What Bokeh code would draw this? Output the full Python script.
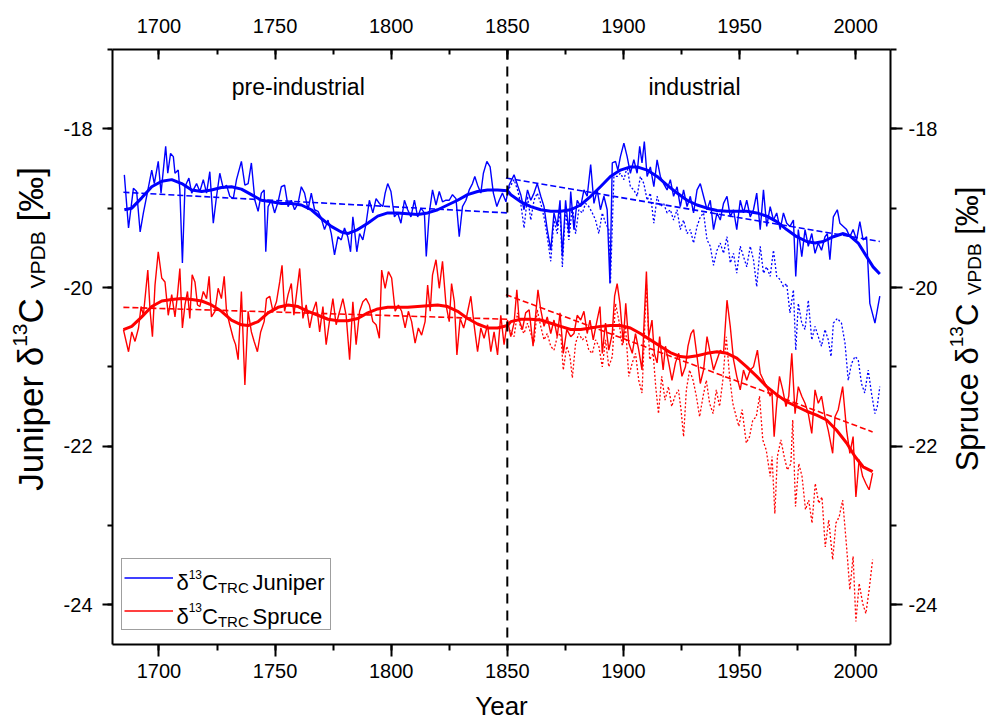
from bokeh.plotting import figure
from bokeh.layouts import row
from bokeh.models import (Range1d, LinearAxis, SingleIntervalTicker, Label, Span,
                          Legend, LegendItem, CustomJSTickFormatter)
from bokeh.embed import file_html
from bokeh.resources import INLINE

FONT = "Liberation Sans"
BLUE = "#0000ff"
RED = "#ff0000"

# ---------------- data (year, delta13C) ----------------
juniper_trc = [
    (1685.1,-18.58),(1686.9,-19.25),(1689.0,-18.75),(1690.4,-18.79),(1691.9,-19.30),(1693.3,-19.06),
    (1694.7,-18.85),(1696.9,-18.52),(1698.0,-18.69),(1699.7,-18.41),(1700.9,-18.81),(1702.9,-18.22),
    (1703.8,-18.56),(1705.0,-18.31),(1706.2,-18.35),(1706.9,-18.56),(1708.3,-18.52),(1709.0,-18.77),
    (1710.1,-19.69),(1711.2,-18.73),(1712.9,-18.62),(1714.1,-18.81),(1716.2,-18.69),(1717.6,-18.79),
    (1719.1,-18.64),(1720.5,-18.81),(1721.9,-18.54),(1723.4,-19.19),(1724.8,-18.85),(1726.2,-18.56),
    (1727.7,-18.75),(1729.1,-18.71),(1730.5,-18.85),(1732.0,-18.88),(1733.4,-18.64),(1735.5,-18.41),
    (1737.0,-18.71),(1738.4,-18.69),(1739.8,-18.43),(1741.3,-18.90),(1742.7,-19.04),(1744.1,-18.81),
    (1745.3,-18.77),(1746.0,-19.55),(1747.0,-18.98),(1748.4,-18.90),(1749.8,-19.06),(1751.3,-18.92),
    (1752.7,-18.73),(1754.1,-18.71),(1755.6,-18.98),(1757.0,-18.90),(1758.4,-19.02),(1759.9,-18.94),
    (1761.3,-18.73),(1762.7,-18.81),(1764.2,-19.02),(1765.6,-18.81),(1767.0,-19.02),(1768.5,-19.04),
    (1769.9,-19.13),(1771.3,-19.27),(1772.8,-19.15),(1774.2,-19.32),(1775.6,-19.59),(1777.1,-19.36),
    (1778.5,-19.40),(1779.9,-19.25),(1781.3,-19.36),(1782.5,-19.55),(1783.5,-19.11),(1784.2,-19.27),
    (1785.2,-19.55),(1786.4,-19.32),(1787.8,-19.40),(1789.2,-19.19),(1790.6,-18.90),(1792.1,-19.06),
    (1793.5,-18.88),(1794.9,-18.94),(1796.4,-18.98),(1797.4,-18.81),(1798.5,-18.69),(1799.9,-18.79),
    (1801.4,-19.11),(1802.8,-19.06),(1804.2,-19.19),(1805.7,-18.90),(1807.1,-19.02),(1808.5,-19.11),
    (1810.0,-18.90),(1811.4,-19.11),(1812.8,-19.00),(1814.3,-19.06),(1815.1,-19.61),(1816.4,-19.06),
    (1817.8,-18.77),(1819.3,-18.96),(1820.7,-18.79),(1822.1,-18.92),(1823.6,-18.90),(1825.0,-18.90),
    (1826.4,-18.83),(1827.9,-18.88),(1829.3,-19.36),(1830.7,-18.98),(1832.2,-18.90),(1833.6,-18.77),
    (1835.0,-18.69),(1836.0,-18.60),(1837.2,-18.71),(1838.6,-18.81),(1839.7,-18.56),(1841.2,-18.41),
    (1842.6,-18.48),(1844.0,-18.81),(1845.5,-18.98),(1846.5,-18.90),(1847.9,-18.81),
    (1849.4,-18.92),(1850.8,-18.71),(1852.9,-18.58),(1854.4,-18.71),(1855.8,-18.83),(1857.2,-19.02),
    (1858.7,-18.77),(1860.1,-18.90),(1861.5,-18.81),(1862.9,-18.69),(1864.4,-18.85),(1865.8,-18.98),
    (1867.2,-19.27),(1868.7,-19.53),(1870.1,-19.06),(1871.5,-19.23),(1872.7,-18.90),(1873.7,-19.61),
    (1875.1,-18.90),(1876.5,-19.32),(1877.3,-18.79),(1878.7,-19.27),(1880.1,-18.90),(1881.6,-18.98),
    (1883.0,-18.77),(1884.4,-18.85),(1885.9,-18.45),(1887.3,-18.94),(1888.7,-18.77),(1890.1,-19.02),
    (1891.6,-18.85),(1893.0,-19.02),(1894.2,-19.95),(1895.2,-18.43),(1896.6,-18.41),(1897.6,-18.52),
    (1898.7,-18.35),(1900.2,-18.18),(1901.6,-18.35),(1903.0,-18.56),(1904.5,-18.39),(1905.9,-18.56),
    (1907.0,-18.22),(1908.0,-18.43),(1909.0,-18.16),(1910.2,-18.60),(1911.6,-18.48),(1913.1,-18.73),
    (1914.5,-18.39),(1915.9,-18.60),(1917.3,-18.69),(1918.8,-18.77),(1920.2,-18.64),(1921.6,-18.85),
    (1923.1,-18.73),(1924.5,-18.98),(1925.9,-18.77),(1927.4,-18.98),(1928.8,-18.85),(1930.2,-19.06),
    (1931.7,-18.77),(1933.1,-18.69),(1934.5,-18.85),(1936.0,-19.02),(1937.4,-18.90),(1938.8,-19.27),
    (1940.3,-19.06),(1941.7,-19.15),(1943.1,-18.94),(1944.6,-18.85),(1946.0,-19.11),(1947.4,-19.02),
    (1948.8,-19.27),(1950.3,-18.90),(1951.7,-19.06),(1953.1,-18.90),(1954.6,-19.11),(1956.0,-19.02),
    (1957.4,-18.81),(1958.9,-19.27),(1960.3,-18.77),(1961.7,-19.23),(1963.2,-18.98),(1964.6,-19.15),
    (1966.0,-19.06),(1967.5,-19.27),(1968.9,-19.06),(1970.3,-19.19),(1971.7,-19.23),(1973.2,-19.15),
    (1974.2,-19.86),(1975.3,-19.27),(1976.8,-19.61),(1978.2,-19.27),(1979.6,-19.48),(1981.1,-19.32),
    (1982.5,-19.57),(1983.9,-19.44),(1985.3,-19.53),(1986.8,-19.36),(1987.8,-19.32),(1988.9,-19.65),
    (1990.4,-19.11),(1992.1,-19.02),(1993.2,-19.19),(1994.7,-19.23),(1996.1,-19.27),(1997.5,-19.36),
    (1998.9,-19.27),(2000.4,-19.40),(2001.8,-19.17),(2003.2,-19.40),(2004.7,-19.36),(2006.1,-20.20),
    (2008.3,-20.45),(2010.4,-20.11),
]

juniper_raw = [
    (1850.8,-18.75),(1852.9,-18.64),(1854.4,-18.77),(1855.8,-18.94),(1857.2,-19.25),(1858.7,-18.85),
    (1860.1,-19.15),(1861.5,-18.90),(1862.9,-18.81),(1864.4,-18.94),(1865.8,-19.11),(1867.2,-19.36),
    (1868.7,-19.67),(1870.1,-19.15),(1871.5,-19.32),(1872.7,-19.02),(1873.7,-19.74),(1875.1,-19.02),
    (1876.5,-19.40),(1878.0,-18.98),(1879.4,-19.32),(1880.8,-19.02),(1882.3,-19.06),(1883.7,-18.94),
    (1885.1,-18.98),(1886.6,-19.06),(1888.0,-19.15),(1889.4,-19.32),(1890.9,-19.06),(1892.3,-19.19),
    (1893.7,-19.27),(1894.4,-19.95),(1895.9,-18.60),(1897.3,-18.60),(1898.7,-18.56),(1900.2,-18.64),
    (1901.6,-18.48),(1903.0,-18.73),(1904.5,-18.77),(1905.9,-18.85),(1907.3,-18.60),(1908.8,-18.69),
    (1910.2,-18.90),(1911.6,-18.81),(1913.1,-19.19),(1914.5,-18.85),(1915.9,-18.98),(1917.3,-18.94),
    (1918.8,-19.06),(1920.2,-19.02),(1921.6,-19.15),(1923.1,-19.02),(1924.5,-19.27),(1925.9,-19.15),
    (1927.4,-19.32),(1928.8,-19.27),(1930.2,-19.44),(1931.7,-19.23),(1933.1,-19.11),(1934.5,-19.06),
    (1936.0,-19.40),(1937.4,-19.48),(1938.8,-19.72),(1940.3,-19.53),(1941.7,-19.44),(1943.1,-19.57),
    (1944.6,-19.36),(1946.0,-19.69),(1947.4,-19.57),(1948.8,-19.82),(1950.3,-19.48),(1951.7,-19.61),
    (1953.1,-19.74),(1954.6,-19.48),(1956.0,-19.65),(1957.4,-19.99),(1958.9,-19.48),(1960.3,-19.82),
    (1961.7,-19.74),(1963.2,-19.86),(1964.6,-19.53),(1966.0,-19.86),(1967.5,-19.90),(1968.9,-19.99),
    (1970.3,-19.95),(1971.7,-20.32),(1973.2,-20.03),(1974.2,-20.79),(1975.3,-20.20),(1976.8,-20.45),
    (1978.2,-20.53),(1979.6,-20.16),(1981.1,-20.66),(1982.5,-20.49),(1983.9,-20.62),(1985.3,-20.74),
    (1986.8,-20.53),(1988.2,-20.66),(1989.4,-20.87),(1990.4,-20.45),(1992.1,-20.39),(1993.9,-20.45),
    (1995.4,-20.70),(1996.8,-21.17),(1998.2,-20.96),(1999.7,-20.87),(2001.1,-20.91),(2002.5,-21.21),
    (2003.9,-21.33),(2005.4,-21.04),(2006.8,-21.33),(2008.3,-21.59),(2009.3,-21.50),(2010.4,-21.25),
]

juniper_smooth = [
    (1685.1,-19.02),(1688.3,-19.00),(1692.6,-18.87),(1696.9,-18.73),(1701.2,-18.66),(1705.5,-18.64),
    (1709.8,-18.69),(1714.1,-18.77),(1718.4,-18.79),(1722.6,-18.77),(1726.9,-18.74),(1731.2,-18.73),
    (1735.5,-18.76),(1739.8,-18.83),(1744.1,-18.90),(1748.4,-18.92),(1752.7,-18.94),(1757.0,-18.94),
    (1761.3,-18.96),(1765.6,-19.02),(1769.9,-19.13),(1774.2,-19.23),(1778.5,-19.30),(1781.3,-19.32),
    (1785.6,-19.27),(1789.9,-19.19),(1794.2,-19.10),(1798.5,-19.06),(1802.8,-19.06),(1807.1,-19.07),
    (1811.4,-19.08),(1815.7,-19.06),(1820.0,-19.02),(1824.3,-18.96),(1828.6,-18.90),(1832.9,-18.83),
    (1837.2,-18.79),(1841.5,-18.77),(1845.8,-18.77),(1850.1,-18.78),(1851.5,-18.83),(1855.8,-18.92),
    (1860.1,-18.98),(1864.4,-19.02),(1868.7,-19.04),(1873.0,-19.04),(1877.3,-19.02),(1881.6,-18.96),
    (1885.9,-18.85),(1890.1,-18.73),(1894.4,-18.60),(1898.7,-18.52),(1903.0,-18.48),(1905.9,-18.48),
    (1910.2,-18.52),(1914.5,-18.60),(1918.8,-18.71),(1923.1,-18.81),(1927.4,-18.90),(1931.7,-18.96),
    (1936.0,-19.00),(1940.3,-19.03),(1944.6,-19.04),(1948.8,-19.04),(1953.1,-19.04),(1957.4,-19.06),
    (1961.7,-19.10),(1966.0,-19.17),(1970.3,-19.27),(1974.6,-19.36),(1978.9,-19.42),(1982.5,-19.44),
    (1986.1,-19.42),(1990.4,-19.36),(1994.7,-19.32),(1997.5,-19.35),(2001.1,-19.44),(2004.7,-19.61),
    (2007.5,-19.74),(2010.4,-19.83),
]

juniper_trend_pre = [(1684.7, -18.80), (1850.1, -19.06)]
juniper_trend_ind = [(1849.4, -18.62), (2010.4, -19.42)]

spruce_trc = [
    (1684.7,-20.53),(1686.9,-20.81),(1688.3,-20.56),(1689.7,-20.68),(1691.2,-20.51),(1692.3,-20.24),
    (1693.3,-20.35),(1695.2,-19.78),(1696.2,-20.30),(1697.2,-20.62),(1698.3,-19.97),(1699.7,-19.55),
    (1701.2,-19.88),(1702.6,-19.93),(1704.0,-20.35),(1705.5,-20.09),(1706.9,-20.37),(1708.0,-20.09),
    (1709.0,-19.76),(1710.1,-20.51),(1711.2,-20.22),(1712.3,-20.05),(1713.3,-20.39),(1714.3,-19.84),
    (1715.5,-19.93),(1716.6,-20.22),(1717.6,-20.24),(1719.1,-20.05),(1720.5,-20.14),(1721.6,-19.86),
    (1722.6,-20.37),(1724.1,-20.30),(1725.5,-20.01),(1726.9,-20.14),(1728.1,-19.86),(1729.1,-20.30),
    (1730.5,-20.47),(1732.0,-20.64),(1733.0,-20.72),(1734.1,-20.91),(1735.5,-20.05),(1737.0,-21.23),
    (1738.4,-20.30),(1739.8,-20.56),(1741.0,-20.68),(1742.4,-20.81),(1743.8,-20.56),(1745.3,-20.43),
    (1746.3,-20.14),(1747.7,-20.11),(1749.1,-20.30),(1750.6,-20.18),(1752.0,-19.93),(1753.0,-19.72),
    (1754.1,-20.30),(1755.6,-20.09),(1757.0,-19.95),(1758.1,-20.35),(1759.2,-20.09),(1760.6,-19.76),
    (1762.0,-20.39),(1763.4,-20.22),(1764.9,-20.51),(1766.3,-20.30),(1767.7,-20.18),(1769.2,-20.56),
    (1770.6,-20.24),(1772.0,-20.72),(1773.5,-20.41),(1774.9,-20.14),(1776.3,-20.47),(1777.8,-20.30),
    (1779.2,-20.14),(1780.6,-20.35),(1782.1,-20.91),(1783.5,-20.18),(1784.9,-20.72),(1786.4,-20.30),
    (1787.8,-20.18),(1789.2,-20.14),(1790.6,-20.22),(1792.1,-20.43),(1793.5,-20.47),(1794.9,-20.64),
    (1795.9,-19.78),(1797.4,-20.01),(1798.8,-19.80),(1800.2,-19.88),(1801.7,-20.30),(1803.1,-20.22),
    (1804.5,-20.30),(1806.0,-20.51),(1807.4,-20.30),(1808.8,-20.43),(1810.3,-20.70),(1811.7,-20.51),
    (1813.1,-20.60),(1814.6,-20.43),(1815.7,-19.97),(1816.8,-20.30),(1817.8,-19.84),(1819.3,-19.65),
    (1820.7,-20.01),(1822.1,-19.67),(1823.6,-20.22),(1825.0,-20.43),(1826.0,-19.95),(1827.2,-20.18),
    (1828.3,-20.85),(1829.7,-20.39),(1831.2,-20.51),(1832.6,-20.35),(1834.3,-20.11),(1835.7,-20.47),
    (1837.2,-20.81),(1838.6,-20.51),(1840.0,-20.64),(1841.5,-20.47),(1842.9,-20.81),(1844.3,-20.56),
    (1845.8,-20.85),(1847.2,-20.35),(1848.6,-20.72),
    (1850.1,-20.41),(1851.5,-20.62),(1852.9,-20.45),(1854.1,-20.03),(1855.1,-20.41),(1856.5,-20.53),
    (1857.9,-20.32),(1859.4,-20.28),(1861.1,-20.74),(1862.0,-20.41),(1863.2,-20.03),(1864.4,-20.28),
    (1865.8,-20.49),(1867.2,-20.37),(1868.7,-20.58),(1870.1,-20.41),(1871.5,-20.62),(1872.7,-20.32),
    (1874.1,-20.83),(1875.6,-20.53),(1877.3,-20.62),(1878.7,-20.58),(1880.1,-20.35),(1881.6,-20.41),
    (1883.0,-20.30),(1884.4,-20.58),(1885.6,-20.41),(1887.0,-20.66),(1888.4,-20.45),(1889.9,-20.24),
    (1890.9,-20.83),(1892.3,-20.45),(1893.7,-20.79),(1895.2,-20.58),(1896.2,-20.11),(1897.3,-19.95),
    (1898.5,-20.20),(1899.9,-20.70),(1901.0,-20.20),(1902.3,-20.70),(1903.8,-20.83),(1905.2,-20.58),
    (1906.6,-20.79),(1908.0,-21.04),(1909.0,-20.37),(1909.9,-19.80),(1910.9,-20.62),(1912.3,-20.41),
    (1913.3,-20.83),(1914.5,-20.95),(1915.6,-20.62),(1917.1,-21.04),(1918.1,-20.74),(1919.5,-20.95),
    (1920.9,-21.17),(1922.4,-20.95),(1923.8,-20.83),(1925.2,-21.12),(1926.7,-21.00),(1927.8,-20.74),
    (1929.1,-20.58),(1930.2,-20.53),(1931.7,-20.87),(1933.1,-21.21),(1934.5,-21.04),(1936.0,-20.62),
    (1937.4,-20.83),(1938.8,-21.04),(1940.3,-20.91),(1941.7,-20.79),(1943.1,-20.83),(1944.6,-20.16),
    (1946.0,-20.49),(1947.4,-20.91),(1948.8,-21.12),(1950.3,-21.29),(1951.7,-21.04),(1953.1,-21.17),
    (1954.6,-21.04),(1956.0,-21.00),(1957.7,-20.79),(1958.9,-21.08),(1960.3,-21.17),(1961.7,-21.25),
    (1963.2,-21.37),(1963.9,-21.29),(1964.9,-21.88),(1966.0,-21.46),(1967.2,-21.12),(1968.6,-21.29),
    (1970.0,-21.50),(1971.2,-21.37),(1972.5,-20.83),(1973.9,-21.59),(1975.3,-21.25),(1976.8,-21.37),
    (1978.2,-21.46),(1979.6,-21.59),(1981.1,-21.84),(1982.5,-21.29),(1983.9,-21.46),(1985.3,-21.37),
    (1986.8,-21.63),(1988.2,-21.80),(1990.1,-22.09),(1991.1,-21.63),(1992.5,-21.54),(1994.4,-21.25),
    (1996.1,-21.80),(1997.5,-22.09),(1998.9,-21.88),(2000.1,-22.64),(2001.5,-22.17),(2003.0,-22.38),
    (2004.4,-22.47),(2005.8,-22.55),(2007.3,-22.34),
]

spruce_raw = [
    (1850.8,-20.53),(1852.9,-20.62),(1854.4,-20.32),(1855.8,-20.51),(1857.2,-20.58),(1858.7,-20.45),
    (1860.1,-20.58),(1861.5,-20.70),(1862.9,-20.28),(1864.4,-20.49),(1865.8,-20.66),(1867.2,-20.58),
    (1868.7,-20.74),(1870.1,-20.79),(1871.5,-20.62),(1873.0,-20.58),(1874.1,-21.04),(1875.6,-20.74),
    (1877.0,-20.87),(1878.0,-21.14),(1879.4,-20.70),(1880.8,-20.58),(1882.3,-20.66),(1883.7,-20.62),
    (1885.1,-20.79),(1886.6,-20.83),(1888.0,-20.66),(1889.4,-20.74),(1890.9,-21.00),(1892.3,-20.66),
    (1893.7,-21.00),(1895.2,-20.87),(1896.6,-20.20),(1898.0,-20.41),(1899.5,-20.74),(1900.9,-20.49),
    (1902.3,-21.12),(1903.8,-20.95),(1905.2,-20.83),(1906.6,-21.17),(1908.0,-21.33),(1909.0,-20.62),
    (1909.9,-19.95),(1911.3,-20.91),(1912.8,-20.83),(1913.9,-21.25),(1915.1,-21.59),(1916.5,-21.12),
    (1917.9,-21.42),(1919.4,-21.25),(1920.8,-21.50),(1922.2,-21.37),(1923.7,-21.29),(1924.8,-21.54),
    (1925.9,-21.88),(1927.1,-21.29),(1928.5,-21.04),(1930.0,-21.17),(1931.4,-21.37),(1932.8,-21.63),
    (1934.3,-21.37),(1935.7,-21.17),(1937.1,-21.46),(1938.6,-21.59),(1940.0,-21.29),(1941.4,-21.50),
    (1942.8,-21.17),(1944.3,-20.62),(1945.7,-21.12),(1947.1,-21.46),(1948.6,-21.63),(1949.7,-21.75),
    (1951.1,-21.54),(1952.9,-21.96),(1954.3,-21.88),(1955.7,-21.67),(1957.2,-21.63),(1958.6,-21.37),
    (1960.0,-21.92),(1961.5,-22.05),(1963.2,-22.38),(1964.0,-22.13),(1965.2,-22.85),(1966.3,-22.13),
    (1967.8,-21.92),(1969.2,-22.13),(1970.6,-22.30),(1972.1,-22.22),(1972.9,-21.67),(1974.1,-22.76),
    (1975.5,-22.22),(1976.9,-22.38),(1978.4,-22.80),(1979.8,-22.68),(1981.2,-22.97),(1982.6,-22.47),
    (1984.1,-22.72),(1985.5,-22.64),(1986.9,-23.27),(1988.4,-22.93),(1990.1,-23.43),(1991.5,-22.97),
    (1992.9,-22.89),(1994.4,-22.68),(1996.1,-23.27),(1997.5,-23.81),(1998.9,-23.39),(2000.1,-24.21),
    (2001.5,-23.73),(2003.0,-23.98),(2004.4,-24.11),(2005.8,-23.81),(2007.3,-23.43),
]

spruce_smooth = [
    (1684.7,-20.53),(1688.3,-20.49),(1692.6,-20.37),(1696.9,-20.24),(1701.2,-20.17),(1705.5,-20.15),
    (1709.8,-20.14),(1714.1,-20.15),(1718.4,-20.17),(1722.6,-20.22),(1726.9,-20.30),(1731.2,-20.41),
    (1735.5,-20.47),(1738.4,-20.48),(1742.7,-20.43),(1747.0,-20.32),(1751.3,-20.25),(1755.6,-20.22),
    (1759.9,-20.24),(1764.2,-20.30),(1768.5,-20.35),(1772.8,-20.40),(1777.1,-20.42),(1781.3,-20.42),
    (1785.6,-20.39),(1789.9,-20.32),(1794.2,-20.27),(1798.5,-20.25),(1802.8,-20.25),(1807.1,-20.25),
    (1811.4,-20.24),(1815.7,-20.23),(1820.0,-20.22),(1824.3,-20.24),(1828.6,-20.30),(1832.9,-20.39),
    (1837.2,-20.46),(1841.5,-20.51),(1845.8,-20.51),(1850.1,-20.48),(1851.5,-20.43),(1855.8,-20.40),
    (1860.1,-20.40),(1864.4,-20.41),(1868.7,-20.45),(1873.0,-20.49),(1877.3,-20.53),(1881.6,-20.53),
    (1885.9,-20.51),(1890.1,-20.49),(1894.4,-20.48),(1898.7,-20.48),(1903.0,-20.51),(1907.3,-20.58),
    (1911.6,-20.66),(1915.9,-20.74),(1920.2,-20.82),(1924.5,-20.87),(1927.4,-20.88),(1931.7,-20.86),
    (1936.0,-20.83),(1940.3,-20.81),(1944.6,-20.83),(1948.8,-20.89),(1953.1,-21.00),(1957.4,-21.12),
    (1961.7,-21.25),(1966.0,-21.35),(1970.3,-21.44),(1974.6,-21.50),(1978.9,-21.56),(1983.2,-21.61),
    (1987.5,-21.67),(1991.8,-21.80),(1996.1,-21.96),(1999.7,-22.13),(2003.2,-22.26),(2007.3,-22.32),
]

spruce_trend_pre = [(1684.7, -20.25), (1850.1, -20.40)]
spruce_trend_ind = [(1849.4, -20.09), (2007.3, -21.82)]

period_labels = ["pre-industrial", "industrial"]
period_label_x = [1760.0, 1930.6]
period_label_y = -17.47
boundary_year = 1850

x_ticks_interval = 50
y_ticks_interval = 2


def xs(pairs):
    return [a for a, _ in pairs]


def ys(pairs):
    return [b for _, b in pairs]


H = 724
LW, RW = 60, 48          # widths of the side panels holding the rich axis titles
MW = 988 - LW - RW       # main plot width

p = figure(width=MW, height=H, x_range=Range1d(1680, 2015), y_range=Range1d(-24.5, -17),
           output_backend="svg", toolbar_location=None,
           min_border_left=111 - LW, min_border_right=MW - (111 - LW) - 780,
           min_border_top=49, min_border_bottom=80)
p.xgrid.visible = False
p.ygrid.visible = False
p.outline_line_color = None

int_fmt = CustomJSTickFormatter(code="return tick.toFixed(0)")


def style(ax, tin, tout, standoff):
    ax.axis_line_width = 2
    ax.axis_line_color = "black"
    ax.major_tick_line_width = 2
    ax.minor_tick_line_width = 2
    ax.major_tick_line_color = "black"
    ax.minor_tick_line_color = "black"
    ax.major_tick_in = tin
    ax.major_tick_out = tout
    ax.minor_tick_in = tin // 2
    ax.minor_tick_out = tout // 2
    ax.major_label_text_font = FONT
    ax.major_label_text_font_size = "20px"
    ax.major_label_text_color = "black"
    ax.major_label_standoff = standoff
    ax.formatter = int_fmt


p.xaxis.ticker = SingleIntervalTicker(interval=x_ticks_interval, num_minor_ticks=2)
p.yaxis.ticker = SingleIntervalTicker(interval=y_ticks_interval, num_minor_ticks=2)
style(p.xaxis[0], 0, 12, 7)
style(p.yaxis[0], 0, 10, 10)
p.xaxis.axis_label = "Year"
p.xaxis.axis_label_text_font = FONT
p.xaxis.axis_label_text_font_size = "26px"
p.xaxis.axis_label_text_font_style = "normal"
p.xaxis.axis_label_text_color = "black"
p.xaxis.axis_label_standoff = 10

top = LinearAxis(ticker=SingleIntervalTicker(interval=x_ticks_interval, num_minor_ticks=2))
style(top, 10, 0, 17)
p.add_layout(top, "above")

right = LinearAxis(ticker=SingleIntervalTicker(interval=y_ticks_interval, num_minor_ticks=2))
style(right, 0, 12, 6)
p.add_layout(right, "right")

# ---------------- series ----------------
p.line(xs(juniper_raw), ys(juniper_raw), line_color=BLUE, line_width=1.3, line_dash="2 2")
p.line(xs(spruce_raw), ys(spruce_raw), line_color=RED, line_width=1.3, line_dash="2 2")

r_jun = p.line(xs(juniper_trc), ys(juniper_trc), line_color=BLUE, line_width=1.4)
r_spr = p.line(xs(spruce_trc), ys(spruce_trc), line_color=RED, line_width=1.4)

for tr, c in [(juniper_trend_pre, BLUE), (juniper_trend_ind, BLUE),
              (spruce_trend_pre, RED), (spruce_trend_ind, RED)]:
    p.line(xs(tr), ys(tr), line_color=c, line_width=1.6, line_dash="6 3")

p.line(xs(juniper_smooth), ys(juniper_smooth), line_color=BLUE, line_width=3)
p.line(xs(spruce_smooth), ys(spruce_smooth), line_color=RED, line_width=3)

p.add_layout(Span(location=boundary_year, dimension="height", line_color="black",
                  line_width=2, line_dash="10 7"))

for t, x in zip(period_labels, period_label_x):
    p.add_layout(Label(x=x, y=period_label_y, text=t, text_align="center", text_baseline="middle",
                       text_font=FONT, text_font_size="23px", text_color="black"))

# ---------------- legend (swatches from bokeh, rich text as labels) ----------------
legend = Legend(items=[LegendItem(label=" ", renderers=[r_jun]),
                       LegendItem(label=" ", renderers=[r_spr])],
                location=(9, 14), padding=2, spacing=0, glyph_height=33, glyph_width=49,
                label_width=155, label_standoff=0, margin=0, label_text_font_size="6px",
                border_line_color="#404040", border_line_width=1,
                background_fill_alpha=0.0)
p.add_layout(legend, "center")

X0, Y0 = 1680, -24.5


def add_label(fig, text, x, y, xo, yo, size, angle=0.0):
    fig.add_layout(Label(x=x, y=y, x_offset=xo, y_offset=yo, text=text, angle=angle,
                         text_align="left", text_baseline="alphabetic", text_font=FONT,
                         text_font_size=f"{size}px", text_color="black", level="overlay"))


for row_i, name in enumerate(["Juniper", "Spruce"]):
    dy = -33.4 * row_i + 6
    add_label(p, "\u03b4", X0, Y0, 64, 55.7 + dy, 22)
    add_label(p, "13", X0, Y0, 76.2, 64 + dy, 12)
    add_label(p, "C", X0, Y0, 89.5, 55.7 + dy, 22)
    add_label(p, "TRC", X0, Y0, 105.4, 50.7 + dy, 15)
    add_label(p, name, X0, Y0, 140, 55.7 + dy, 22)


# ---------------- rotated rich axis titles in narrow side panels ----------------
def side_panel(w):
    f = figure(width=w, height=H, x_range=Range1d(0, w), y_range=Range1d(0, H),
               output_backend="svg", toolbar_location=None,
               x_axis_location=None, y_axis_location=None,
               min_border=0, min_border_left=0, min_border_right=0,
               min_border_top=0, min_border_bottom=0)
    f.outline_line_color = None
    f.grid.visible = False
    return f


ANG = 1.5707963267948966
CENTER_Y = H - 340.0


def axis_title(fig, name_em, name, base_x, F, S):
    name_len = name_em * F
    sup_len = 1.112 * S
    c_len = 0.722 * F
    space = 0.278 * F
    vpdb_len = 2.723 * S
    total = name_len + sup_len + c_len + space + vpdb_len + space + 1.556 * F
    s = -total / 2.0
    add_label(fig, name + " \u03b4", base_x, CENTER_Y, 0, s, F, ANG)
    s += name_len
    add_label(fig, "13", base_x, CENTER_Y, -11, s, S, ANG)
    s += sup_len
    add_label(fig, "C", base_x, CENTER_Y, 0, s, F, ANG)
    s += c_len + space
    add_label(fig, "VPDB", base_x, CENTER_Y, 7, s, S, ANG)
    s += vpdb_len + space
    add_label(fig, "[\u2030]", base_x, CENTER_Y, 0, s, F, ANG)


left_panel = side_panel(LW)
axis_title(left_panel, 4.113, "Juniper", 30, 35, 21)
right_panel = side_panel(RW)
axis_title(right_panel, 4.002, "Spruce", 27, 31, 19)

layout = row(left_panel, p, right_panel, spacing=0)
open("out.html", "w").write(file_html(layout, INLINE))
